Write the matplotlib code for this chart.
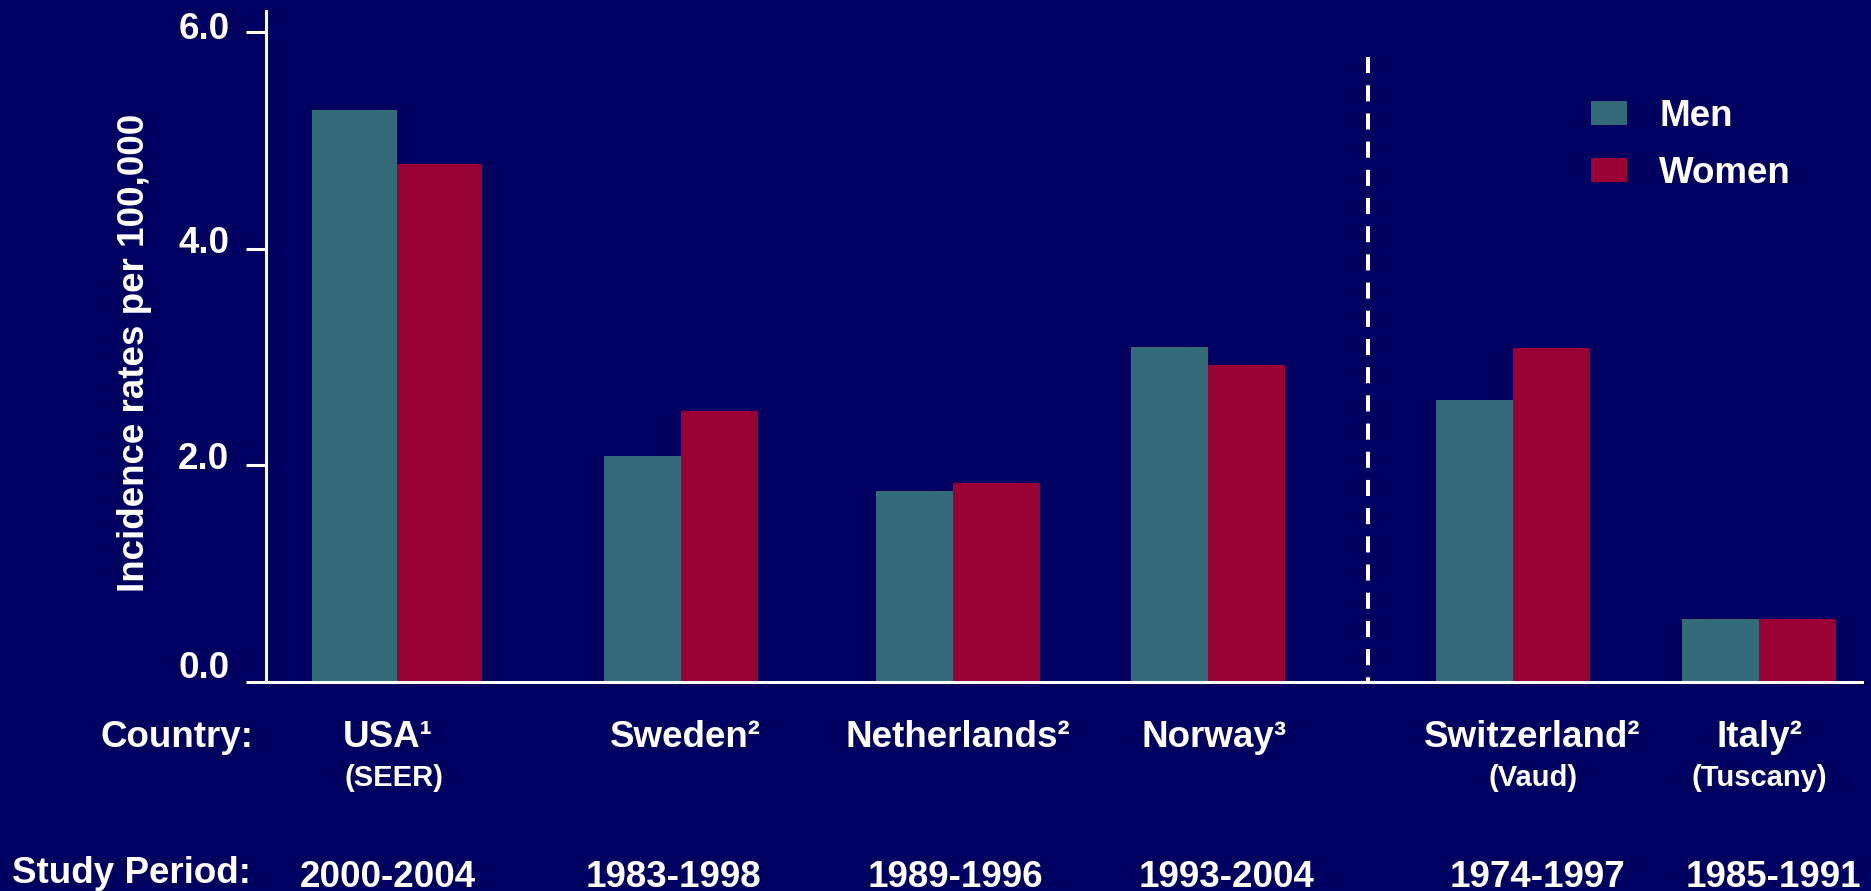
#!/usr/bin/env python3
"""Incidence rates per 100,000 by country and sex, grouped bar chart."""

import matplotlib

matplotlib.use("Agg")
import matplotlib.pyplot as plt
import matplotlib.transforms as mtransforms

countries = ["USA¹", "Sweden²", "Netherlands²", "Norway³", "Switzerland²", "Italy²"]
regions = ["(SEER)", "", "", "", "(Vaud)", "(Tuscany)"]
periods = ["2000-2004", "1983-1998", "1989-1996", "1993-2004", "1974-1997", "1985-1991"]
men = [5.28, 2.09, 1.76, 3.09, 2.60, 0.58]
women = [4.78, 2.50, 1.84, 2.93, 3.08, 0.58]
yticks = [0.0, 2.0, 4.0, 6.0]

# layout, in bar-width units from the y axis
group_x = [1.70, 5.39, 8.92, 12.23, 16.19, 19.39]
men_w = [1.1, 1.0, 1.0, 1.0, 1.0, 1.0]
women_w = [1.1, 1.0, 1.13, 1.0, 1.0, 1.0]
country_x = [1.58, 5.45, 8.99, 12.31, 16.45, 19.40]
region_x = [1.66, None, None, None, 16.45, 19.40]
period_x = [1.58, 5.29, 8.95, 12.47, 16.51, 19.58]
divider_x = 14.31
tick_lift = [18, 10, 9, 7]  # px, per y tick label

BG = "#000060"
MEN_C = "#336b78"
WOMEN_C = "#990033"
FONT = "Liberation Sans"
FS = 26.5

W, H = 1871, 891
plt.rcParams["font.family"] = [FONT, "DejaVu Sans"]
plt.rcParams["font.weight"] = "bold"

fig = plt.figure(figsize=(W / 100, H / 100), dpi=100, facecolor=BG)
ax = fig.add_axes([266 / W, (H - 682) / H, (1862 - 266) / W, (682 - 11) / H])
ax.set_facecolor(BG)

men_x = [g - w / 2 for g, w in zip(group_x, men_w)]
women_x = [g + w / 2 for g, w in zip(group_x, women_w)]
b_men = ax.bar(men_x, men, width=men_w, color=MEN_C, label="Men", zorder=2)
b_women = ax.bar(women_x, women, width=women_w, color=WOMEN_C, label="Women", zorder=2)

ax.set_xlim(0, (1862 - 266) / 77)
ax.set_ylim(0, (682 - 11) / 108.33)

# dashed divider between the two groups of registries
ax.plot([divider_x, divider_x], [(682 - 57) / 108.33, 0], color="white",
        linewidth=2.9, dashes=(4, 3), zorder=1)

for side in ["top", "right"]:
    ax.spines[side].set_visible(False)
for side in ["left", "bottom"]:
    ax.spines[side].set_color("white")
    ax.spines[side].set_linewidth(2.2)

ax.set_xticks([])
ax.set_yticks(yticks)
ax.set_yticklabels([f"{t:.1f}" for t in yticks])
ax.tick_params(axis="y", colors="white", length=14.4, width=2.2, pad=12,
               labelsize=FS)
for lab, lift in zip(ax.get_yticklabels(), tick_lift):
    lab.set_fontweight("bold")
    shift = mtransforms.ScaledTranslation(0, lift / 100, fig.dpi_scale_trans)
    lab.set_transform(lab.get_transform() + shift)

fig.text(134 / W, 1 - 353 / H, "Incidence rates per 100,000", rotation=90,
         color="white", fontsize=FS, fontweight="bold", ha="center", va="center")

blend = mtransforms.blended_transform_factory(ax.transData, fig.transFigure)


def fy(px):
    return 1 - px / H


for x, name in zip(country_x, countries):
    ax.text(x, fy(747), name, transform=blend, color="white", fontsize=FS,
            fontweight="bold", ha="center", va="baseline")
for x, name in zip(region_x, regions):
    if name:
        ax.text(x, fy(786), name, transform=blend, color="white", fontsize=21,
                fontweight="bold", ha="center", va="baseline")
for x, name in zip(period_x, periods):
    ax.text(x, fy(887), name, transform=blend, color="white", fontsize=FS,
            fontweight="bold", ha="center", va="baseline")

fig.text(253 / W, fy(747), "Country:", color="white", fontsize=FS,
         fontweight="bold", ha="right", va="baseline")
fig.text(251 / W, fy(883), "Study Period:", color="white", fontsize=FS,
         fontweight="bold", ha="right", va="baseline")

leg = ax.legend(handles=[b_men, b_women], loc="upper left",
                bbox_to_anchor=(1591 / W, fy(99)), bbox_transform=fig.transFigure,
                frameon=False, fontsize=FS, handlelength=0.98, handleheight=0.65,
                handletextpad=0.87, labelspacing=0.59, borderpad=0, borderaxespad=0)
for t in leg.get_texts():
    t.set_color("white")
    t.set_fontweight("bold")

fig.savefig("out.png", dpi=100, facecolor=BG)
